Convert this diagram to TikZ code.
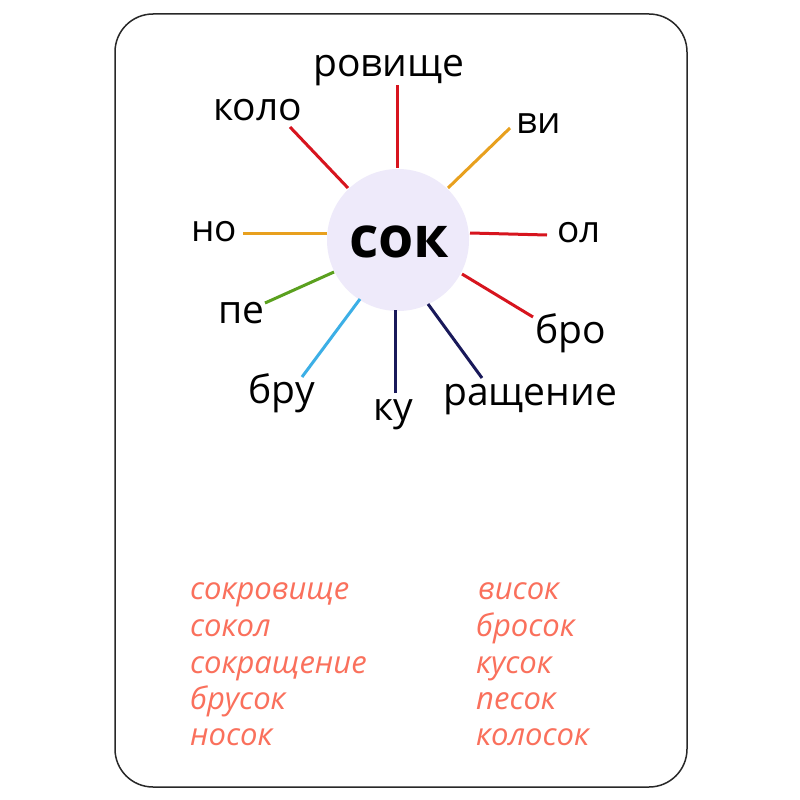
\documentclass[tikz,border=0pt]{standalone}
\usepackage{fontspec}
\setmainfont{Open Sans}
\definecolor{frame}{RGB}{40,40,40}
\definecolor{lav}{RGB}{238,234,250}
\definecolor{salmon}{RGB}{250,112,92}
\definecolor{lred}{RGB}{215,20,30}
\definecolor{lorange}{RGB}{232,160,30}
\definecolor{lgreen}{RGB}{90,160,30}
\definecolor{lblue}{RGB}{60,175,230}
\definecolor{lnavy}{RGB}{25,25,90}
\begin{document}
\begin{tikzpicture}[x=1pt,y=-1pt,
  word/.style={font=\fontsize{39}{44}\selectfont, text=black, inner sep=0pt, anchor=base west},
  wordsm/.style={word, font=\fontsize{37}{42}\selectfont},
  ans/.style={font=\fontsize{31}{36}\selectfont\itshape, text=salmon, inner sep=0pt, anchor=base west},
  ray/.style={line width=3pt}]
\useasboundingbox (0,0) rectangle (800,800);
\fill[white] (0,0) rectangle (800,800);
\draw[frame, line width=1.5pt, rounded corners=38pt] (115,14) rectangle (687,787);
\node[circle, fill=lav, minimum size=142pt, inner sep=0pt] (c) at (398,240) {};
\node[font=\fontsize{57}{60}\selectfont\bfseries, inner sep=0pt, anchor=base] (sok) at (399,257) {сок};
% labels
\node[word] (w1) at (313,76) {ровище};
\node[word] (w2) at (213,120) {коло};
\node[wordsm] (w3) at (516,133) {ви};
\node[wordsm] (w4) at (191,241) {но};
\node[wordsm] (w5) at (557,242) {ол};
\node[word] (w6) at (218,323) {пе};
\node[word] (w7) at (535,343) {бро};
\node[word] (w8) at (248,403) {бру};
\node[word] (w9) at (373,420) {ку};
\node[word] (w10) at (443,405) {ращение};
% ray endpoints
\coordinate (a1) at (397,85);  \coordinate (b1) at (397,168);
\coordinate (a2) at (290,127); \coordinate (b2) at (348,188);
\coordinate (a3) at (510,128); \coordinate (b3) at (448,188);
\coordinate (a4) at (243,233); \coordinate (b4) at (327,233);
\coordinate (a5) at (547,235); \coordinate (b5) at (470,233);
\coordinate (a6) at (265,303); \coordinate (b6) at (334,272);
\coordinate (a7) at (533,317); \coordinate (b7) at (462,274);
\coordinate (a8) at (302,377); \coordinate (b8) at (360,299);
\coordinate (a9) at (395,393); \coordinate (b9) at (395,310);
\coordinate (a10) at (482,378); \coordinate (b10) at (428,304);
\draw[ray, lred] (a1) -- (b1);
\draw[ray, lred] (a2) -- (b2);
\draw[ray, lorange] (a3) -- (b3);
\draw[ray, lorange] (a4) -- (b4);
\draw[ray, lred] (a5) -- (b5);
\draw[ray, lgreen] (a6) -- (b6);
\draw[ray, lred] (a7) -- (b7);
\draw[ray, lblue] (a8) -- (b8);
\draw[ray, lnavy] (a9) -- (b9);
\draw[ray, lnavy] (a10) -- (b10);
% answers
\node[ans] (l1) at (190,599) {сокровище};
\node[ans] (l2) at (190,636) {сокол};
\node[ans] (l3) at (190,673) {сокращение};
\node[ans] (l4) at (190,709) {брусок};
\node[ans] (l5) at (190,745) {носок};
\node[ans] (r1) at (478,599) {висок};
\node[ans] (r2) at (476,636) {бросок};
\node[ans] (r3) at (476,673) {кусок};
\node[ans] (r4) at (476,709) {песок};
\node[ans] (r5) at (476,745) {колосок};
\end{tikzpicture}
\end{document}
